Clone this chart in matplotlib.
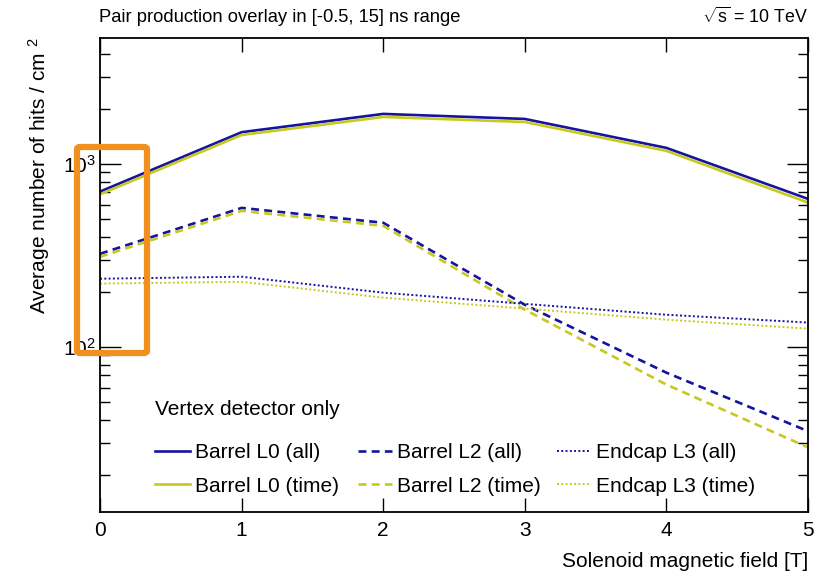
import matplotlib
matplotlib.use("Agg")
import matplotlib.pyplot as plt
from matplotlib.patches import FancyBboxPatch
from matplotlib.legend import Legend
from matplotlib.ticker import LogLocator, NullFormatter, MultipleLocator

plt.rcParams["font.family"] = ["Liberation Sans", "DejaVu Sans"]
plt.rcParams["mathtext.fontset"] = "custom"
plt.rcParams["mathtext.rm"] = "Liberation Sans"
plt.rcParams["mathtext.it"] = "Liberation Sans:italic"

# Solenoid field values [T]
field = [0, 1, 2, 3, 4, 5]

# Average hits / cm^2
barrel_l0_all = [706, 1490, 1875, 1760, 1223, 644]
barrel_l0_time = [682, 1439, 1805, 1694, 1178, 615]
barrel_l2_all = [323, 575, 477, 170, 72.4, 34.7]
barrel_l2_time = [311, 554, 459, 160, 62.3, 28.3]
endcap_l3_all = [236, 242, 198, 172, 150, 136]
endcap_l3_time = [222, 227, 186, 162, 141, 126]

C_ALL = "#14149e"
C_TIME = "#c8c81e"

fig = plt.figure(figsize=(8.27, 5.72), dpi=100)
fig.patch.set_facecolor("white")
ax = fig.add_axes([0.121, 0.1054, 0.856, 0.829])

lw = 1.9
DASH = (0, (3, 2))
DOT = (0, (1, 1.2))
l0a, = ax.plot(field, barrel_l0_all, color=C_ALL, lw=lw, label="Barrel L0 (all)")
l0t, = ax.plot(field, barrel_l0_time, color=C_TIME, lw=lw, label="Barrel L0 (time)")
l2a, = ax.plot(field, barrel_l2_all, color=C_ALL, lw=lw, ls=DASH, label="Barrel L2 (all)")
l2t, = ax.plot(field, barrel_l2_time, color=C_TIME, lw=lw, ls=DASH, label="Barrel L2 (time)")
l3a, = ax.plot(field, endcap_l3_all, color=C_ALL, lw=1.4, ls=DOT, label="Endcap L3 (all)")
l3t, = ax.plot(field, endcap_l3_time, color=C_TIME, lw=1.4, ls=DOT, label="Endcap L3 (time)")

ax.set_yscale("log")
ax.set_xlim(0, 5)
ax.set_ylim(12.6, 4900)

# ROOT-like ticks: inward on all four sides
ax.xaxis.set_major_locator(MultipleLocator(1))
ax.yaxis.set_major_locator(LogLocator(base=10))
ax.yaxis.set_minor_locator(LogLocator(base=10, subs=range(2, 10)))
ax.yaxis.set_minor_formatter(NullFormatter())
ax.tick_params(axis="both", which="both", direction="in", top=True, right=True,
               width=1.0, colors="black", labelsize=15)
ax.tick_params(axis="x", which="major", length=10, pad=7)
ax.tick_params(axis="y", which="major", length=15, pad=3)
ax.tick_params(axis="y", which="minor", length=7.5)
for s in ax.spines.values():
    s.set_linewidth(1.3)

ax.set_xlabel("Solenoid magnetic field [T]", fontsize=15, ha="right", x=1.0, labelpad=8)
ax.set_ylabel("Average number of hits / cm $^{2}$", fontsize=15, ha="right", y=1.0, labelpad=8)

fig.text(0.120, 0.970, "Pair production overlay in [-0.5, 15] ns range",
         fontsize=13.2, ha="left", va="center")
fig.text(0.977, 0.970, r"$\sqrt{\mathrm{s}}$ = 10 TeV",
         fontsize=12.8, ha="right", va="center")

# Legend: header plus three two-row columns
ax.text(0.078, 0.216, "Vertex detector only", transform=ax.transAxes,
        fontsize=15, ha="left", va="center")
cols = [((l0a, l0t), 0.078), ((l2a, l2t), 0.364), ((l3a, l3t), 0.645)]
for hs, x0 in cols:
    leg = Legend(ax, hs, [h.get_label() for h in hs], frameon=False, fontsize=15,
                 loc="center left", bbox_to_anchor=(x0, 0.089),
                 handlelength=1.65, handletextpad=0.25, labelspacing=0.68,
                 borderpad=0, borderaxespad=0)
    ax.add_artist(leg)

# Highlight box near the origin
hl = FancyBboxPatch((77 / 827, 1 - 353 / 572), 70 / 827, 206 / 572,
                    boxstyle="round,pad=0,rounding_size=0.004",
                    transform=fig.transFigure, facecolor="none",
                    edgecolor="#f0901e", linewidth=4.5, zorder=10,
                    clip_on=False)
fig.patches.append(hl)

fig.savefig("out.png", dpi=100, facecolor="white")
